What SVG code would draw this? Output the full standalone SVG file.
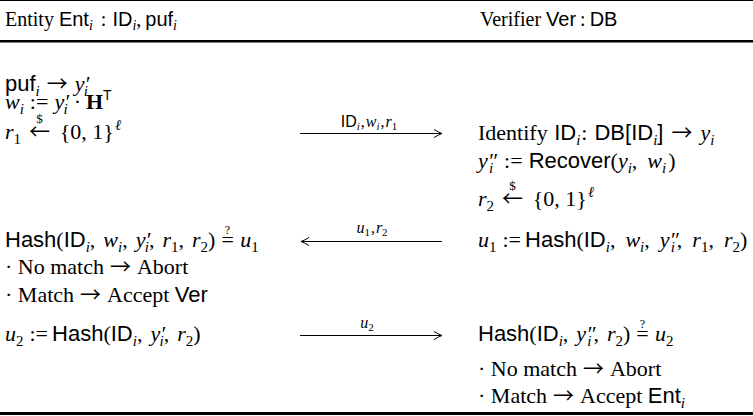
<svg xmlns="http://www.w3.org/2000/svg" width="753" height="416" viewBox="0 0 753 416">
  <style>
    text { font-family: "Liberation Serif", "Times New Roman", serif; font-size: 22px; fill: #000; }
    .hd { font-size: 20px; }
    .sf { font-family: "Liberation Sans", Arial, sans-serif; }
    .i { font-style: italic; }
    .b { font-weight: bold; }
    .s { font-size: 15px; }
    .hs { font-size: 14px; }
    .ar { font-family: "Noto Sans CJK JP", "DejaVu Sans", sans-serif; font-size: 21px; }
    .lbl { font-size: 16px; }
    .ls { font-size: 11px; }
    .dl { font-size: 13px; }
    .q { font-size: 12px; }
    .rule { stroke: #000; fill: none; }
  </style>
  <defs>
    <marker id="head" markerUnits="userSpaceOnUse" markerWidth="9" markerHeight="10" refX="8" refY="5" orient="auto">
      <path d="M0,1 Q5,4 8,5 Q5,6 0,9" fill="none" stroke="#000" stroke-width="1"/>
    </marker>
  </defs>

  <!-- table rules -->
  <g id="rules">
    <line class="rule" x1="0" y1="0.5" x2="753" y2="0.5" stroke-width="1"/>
    <line class="rule" x1="0" y1="41.3" x2="753" y2="41.3" stroke-width="2.5"/>
    <line class="rule" x1="0" y1="413.5" x2="753" y2="413.5" stroke-width="3"/>
  </g>

  <!-- left party: the entity -->
  <g id="entity">
    <text class="hd" x="5" y="26">Entity <tspan class="sf">Ent</tspan><tspan class="i hs" dy="4">i</tspan><tspan dx="8" dy="-4">:</tspan><tspan class="sf" dx="6">ID</tspan><tspan class="i hs" dy="4">i</tspan><tspan dy="-4">,</tspan><tspan class="sf" dx="4">puf</tspan><tspan class="i hs" dy="4">i</tspan></text>

    <text x="5" y="91"><tspan class="sf">puf</tspan><tspan class="i s" dy="4.5">i</tspan><tspan class="ar" dx="7" dy="-4.5">→</tspan><tspan class="i" dx="7">y</tspan><tspan class="i">′</tspan><tspan class="i s" dx="-5.5" dy="4.5">i</tspan></text>

    <text x="5" y="109"><tspan class="i">w</tspan><tspan class="i s" dy="4.5">i</tspan><tspan dx="6" dy="-4.5">:=</tspan><tspan class="i" dx="6">y</tspan><tspan class="i">′</tspan><tspan class="i s" dx="-5.5" dy="4.5">i</tspan><tspan dx="6" dy="-4.5">·</tspan><tspan class="b" dx="5">H</tspan><tspan class="sf hs" dy="-9">T</tspan></text>

    <text x="5" y="139"><tspan class="i">r</tspan><tspan class="s" dy="4.5">1</tspan><tspan class="ar" dx="8" dy="-4.5">←</tspan><tspan class="dl" dx="-13.8" dy="-16">$</tspan><tspan dx="17" dy="16">{0, 1}</tspan><tspan class="i s" dx="1" dy="-9">ℓ</tspan></text>

    <text x="5" y="247"><tspan class="sf">Hash</tspan>(<tspan class="sf">ID</tspan><tspan class="i s" dy="4.5">i</tspan><tspan dy="-4.5">,</tspan><tspan class="i" dx="8">w</tspan><tspan class="i s" dy="4.5">i</tspan><tspan dy="-4.5">,</tspan><tspan class="i" dx="8">y</tspan><tspan class="i">′</tspan><tspan class="i s" dx="-5.5" dy="4.5">i</tspan><tspan dy="-4.5">,</tspan><tspan class="i" dx="8">r</tspan><tspan class="s" dy="4.5">1</tspan><tspan dy="-4.5">,</tspan><tspan class="i" dx="8">r</tspan><tspan class="s" dy="4.5">2</tspan><tspan dy="-4.5">)</tspan><tspan dx="6">=</tspan><tspan class="q" dx="-9" dy="-13">?</tspan><tspan class="i" dx="10" dy="13">u</tspan><tspan class="s" dy="4.5">1</tspan></text>

    <text x="5" y="274">· No match<tspan class="ar" dx="6">→</tspan><tspan dx="6">Abort</tspan></text>
    <text x="5" y="302">· Match<tspan class="ar" dx="6">→</tspan><tspan dx="6">Accept</tspan> <tspan class="sf">Ver</tspan></text>

    <text x="5" y="341"><tspan class="i">u</tspan><tspan class="s" dy="4.5">2</tspan><tspan dx="6" dy="-4.5">:=</tspan><tspan class="sf" dx="4">Hash</tspan>(<tspan class="sf">ID</tspan><tspan class="i s" dy="4.5">i</tspan><tspan dy="-4.5">,</tspan><tspan class="i" dx="8">y</tspan><tspan class="i">′</tspan><tspan class="i s" dx="-5.5" dy="4.5">i</tspan><tspan dy="-4.5">,</tspan><tspan class="i" dx="8">r</tspan><tspan class="s" dy="4.5">2</tspan><tspan dy="-4.5">)</tspan></text>
  </g>

  <!-- right party: the verifier -->
  <g id="verifier">
    <text class="hd" x="480" y="26">Verifier <tspan class="sf">Ver</tspan><tspan dx="4">:</tspan><tspan class="sf" dx="4">DB</tspan></text>

    <text x="478" y="140">Identify <tspan class="sf" dx="1">ID</tspan><tspan class="i s" dy="4.5">i</tspan><tspan dx="1" dy="-4.5">:</tspan><tspan class="sf" dx="7">DB[ID</tspan><tspan class="i s" dy="4.5">i</tspan><tspan class="sf" dy="-4.5">]</tspan><tspan class="ar" dx="8">→</tspan><tspan class="i" dx="8">y</tspan><tspan class="i s" dy="4.5">i</tspan></text>

    <text x="478" y="168"><tspan class="i">y</tspan><tspan class="i">″</tspan><tspan class="i s" dx="-8" dy="4.5">i</tspan><tspan dx="11" dy="-4.5">:=</tspan><tspan class="sf" dx="6">Recover</tspan>(<tspan class="i">y</tspan><tspan class="i s" dy="4.5">i</tspan><tspan dy="-4.5">,</tspan><tspan class="i" dx="10">w</tspan><tspan class="i s" dy="4.5">i</tspan><tspan dx="2" dy="-4.5">)</tspan></text>

    <text x="478" y="206"><tspan class="i">r</tspan><tspan class="s" dy="4.5">2</tspan><tspan class="ar" dx="8" dy="-4.5">←</tspan><tspan class="dl" dx="-13.8" dy="-16">$</tspan><tspan dx="17" dy="16">{0, 1}</tspan><tspan class="i s" dx="1" dy="-9">ℓ</tspan></text>

    <text x="478" y="247"><tspan class="i">u</tspan><tspan class="s" dy="4.5">1</tspan><tspan dx="6" dy="-4.5">:=</tspan><tspan class="sf" dx="4">Hash</tspan>(<tspan class="sf">ID</tspan><tspan class="i s" dy="4.5">i</tspan><tspan dy="-4.5">,</tspan><tspan class="i" dx="10">w</tspan><tspan class="i s" dy="4.5">i</tspan><tspan dy="-4.5">,</tspan><tspan class="i" dx="10">y</tspan><tspan class="i">″</tspan><tspan class="i s" dx="-8" dy="4.5">i</tspan><tspan dx="2" dy="-4.5">,</tspan><tspan class="i" dx="10">r</tspan><tspan class="s" dy="4.5">1</tspan><tspan dy="-4.5">,</tspan><tspan class="i" dx="10">r</tspan><tspan class="s" dy="4.5">2</tspan><tspan dy="-4.5">)</tspan></text>

    <text x="478" y="341"><tspan class="sf">Hash</tspan>(<tspan class="sf">ID</tspan><tspan class="i s" dy="4.5">i</tspan><tspan dy="-4.5">,</tspan><tspan class="i" dx="8">y</tspan><tspan class="i">″</tspan><tspan class="i s" dx="-8" dy="4.5">i</tspan><tspan dx="2" dy="-4.5">,</tspan><tspan class="i" dx="8">r</tspan><tspan class="s" dy="4.5">2</tspan><tspan dy="-4.5">)</tspan><tspan dx="6">=</tspan><tspan class="q" dx="-9" dy="-13">?</tspan><tspan class="i" dx="10" dy="13">u</tspan><tspan class="s" dy="4.5">2</tspan></text>

    <text x="478" y="376">· No match<tspan class="ar" dx="6">→</tspan><tspan dx="6">Abort</tspan></text>
    <text x="478" y="403">· Match<tspan class="ar" dx="6">→</tspan><tspan dx="6">Accept</tspan> <tspan class="sf">Ent</tspan><tspan class="i s" dy="4.5">i</tspan></text>
  </g>

  <!-- messages exchanged between the parties -->
  <g id="messages">
    <path class="rule" d="M300,133.5 H442" stroke-width="1" marker-end="url(#head)"/>
    <text class="lbl" x="369" y="127" text-anchor="middle"><tspan class="sf">ID</tspan><tspan class="i ls" dy="3">i</tspan><tspan dx="1" dy="-3">,</tspan><tspan class="i" dx="1">w</tspan><tspan class="i ls" dy="3">i</tspan><tspan dx="1" dy="-3">,</tspan><tspan class="i" dx="1">r</tspan><tspan class="ls" dy="3">1</tspan></text>

    <path class="rule" d="M442,241.5 H301" stroke-width="1" marker-end="url(#head)"/>
    <text class="lbl" x="372" y="233" text-anchor="middle"><tspan class="i">u</tspan><tspan class="ls" dy="3">1</tspan><tspan dx="1" dy="-3">,</tspan><tspan class="i" dx="1">r</tspan><tspan class="ls" dy="3">2</tspan></text>

    <path class="rule" d="M300,335.5 H442" stroke-width="1" marker-end="url(#head)"/>
    <text class="lbl" x="367" y="328" text-anchor="middle"><tspan class="i">u</tspan><tspan class="ls" dy="3">2</tspan></text>
  </g>
</svg>
